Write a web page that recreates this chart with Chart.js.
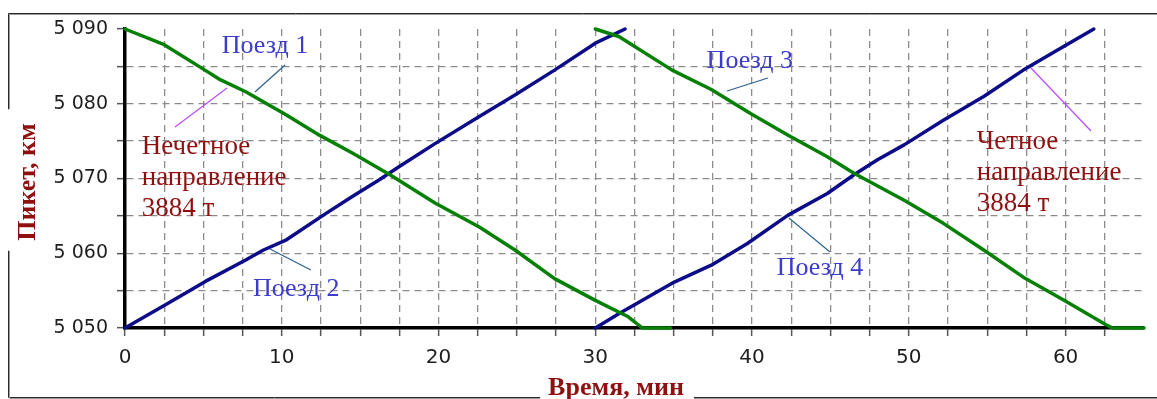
<!DOCTYPE html>
<html lang="ru">
<head>
<meta charset="utf-8">
<title>Пикет, км / Время, мин</title>
<script src="https://cdn.jsdelivr.net/npm/chart.js@4.4.1/dist/chart.umd.min.js"></script>
<style>
  html, body { margin: 0; padding: 0; background: #ffffff; }
  canvas { display: block; }
</style>
</head>
<body>
<canvas id="chart" width="1157" height="399"></canvas>
<script>
// Поезд 1 — нечетное направление (время, мин / пикет, км)
const train1Time = [0, 2.5, 5.1, 6.0, 7.7, 10.3, 12.4, 14.5, 16.9, 19.8, 22.6, 24.9, 27.4, 30.0, 32.1, 33.0, 34.8];
const train1Km   = [5090, 5087.9, 5084.5, 5083.3, 5081.6, 5078.5, 5075.8, 5073.4, 5070.5, 5066.7, 5063.5, 5060.4, 5056.6, 5053.7, 5051.5, 5050, 5050];

// Поезд 2 — четное направление
const train2Time = [0, 2.5, 5.1, 7.7, 8.8, 10.3, 12.8, 14.5, 16.2, 17.5, 19.8, 22.6, 24.9, 27.4, 30.0, 31.9];
const train2Km   = [5050, 5053.0, 5056.2, 5059.1, 5060.4, 5061.8, 5065.3, 5067.6, 5069.8, 5071.6, 5074.7, 5078.3, 5081.2, 5084.5, 5088.1, 5090];

// Поезд 3 — нечетное направление
const train3Time = [30.0, 31.5, 34.9, 37.4, 39.9, 42.3, 44.8, 46.5, 49.7, 52.2, 54.8, 57.3, 59.9, 62.6, 63.0, 65.0];
const train3Km   = [5090, 5089.0, 5084.5, 5081.9, 5078.7, 5075.8, 5072.9, 5070.7, 5067.1, 5064.0, 5060.4, 5056.8, 5053.7, 5050.4, 5050, 5050];

// Поезд 4 — четное направление
const train4Time = [30.0, 31.5, 34.9, 37.4, 39.7, 42.3, 44.8, 46.5, 48.0, 49.7, 52.2, 54.8, 57.3, 59.9, 61.8];
const train4Km   = [5050, 5051.9, 5056.0, 5058.4, 5061.3, 5065.1, 5068.0, 5070.5, 5072.5, 5074.5, 5077.8, 5081.0, 5084.5, 5087.7, 5090];

// Оси
const timeMin = 0, timeMax = 65, timeStep = 2.5, timeLabelStep = 10;
const kmMin = 5050, kmMax = 5090, kmStep = 5, kmLabelStep = 10;
const xTitle = 'Время, мин';
const yTitle = 'Пикет, км';

// Подписи поездов: текст, позиция (мин, км), выноска (мин, км) -> (мин, км)
const trainNames   = ['Поезд 1', 'Поезд 2', 'Поезд 3', 'Поезд 4'];
const trainNameAt  = [[6.17, 5086.8], [8.16, 5054.3], [37.1, 5084.8], [41.57, 5057.1]];
const trainLeaders = [
  [[8.29, 5081.57], [10.21, 5085.18]],
  [[9.25, 5060.57], [11.86, 5057.76]],
  [[38.4, 5081.71], [41.01, 5083.44]],
  [[42.35, 5064.72], [44.97, 5060.17]]
];

// Подписи направлений
const oddLines  = ['Нечетное', 'направление', '3884 т'];
const evenLines = ['Четное', 'направление', '3884 т'];
const oddAt  = [1.07, 5073.3];
const evenAt = [54.33, 5074.0];
const oddLeader  = [[3.19, 5076.89], [6.51, 5082.11]];
const evenLeader = [[57.79, 5084.78], [61.62, 5076.35]];

const toPoints = (xs, ys) => xs.map((x, i) => ({ x, y: ys[i] }));
const fmtKm = v => String(v).replace(/\B(?=(\d{3})+$)/, ' ');

const GREEN = '#058005';
const NAVY = '#0c0c88';
const DARK_RED = '#8e1010';
const LABEL_BLUE = '#3b3bcc';
const LEADER_BLUE = '#2d6190';
const LEADER_VIOLET = '#b84cff';
const SERIF = '"Liberation Serif", "Times New Roman", serif';
const SANS = '"DejaVu Sans", Verdana, sans-serif';

// Рамка, заголовки осей и подписи
const decorations = {
  id: 'decorations',
  afterDatasetsDraw(chart) {
    const { ctx, scales: { x, y } } = chart;
    const px = v => x.getPixelForValue(v);
    const py = v => y.getPixelForValue(v);
    ctx.save();

    // выноски
    const leader = (seg, color) => {
      ctx.beginPath();
      ctx.strokeStyle = color;
      ctx.lineWidth = 1.2;
      ctx.moveTo(px(seg[0][0]), py(seg[0][1]));
      ctx.lineTo(px(seg[1][0]), py(seg[1][1]));
      ctx.stroke();
    };
    trainLeaders.forEach(seg => leader(seg, LEADER_BLUE));
    leader(oddLeader, LEADER_VIOLET);
    leader(evenLeader, LEADER_VIOLET);

    // названия поездов
    ctx.font = '26px ' + SERIF;
    ctx.fillStyle = LABEL_BLUE;
    ctx.textAlign = 'left';
    ctx.textBaseline = 'alphabetic';
    trainNames.forEach((t, i) => ctx.fillText(t, px(trainNameAt[i][0]), py(trainNameAt[i][1])));

    // направления
    ctx.font = '27px ' + SERIF;
    ctx.fillStyle = DARK_RED;
    const block = (lines, at) => {
      lines.forEach((t, i) => ctx.fillText(t, px(at[0]), py(at[1]) + i * 31));
    };
    block(oddLines, oddAt);
    block(evenLines, evenAt);

    // заголовки осей
    ctx.font = 'bold 26px ' + SERIF;
    ctx.fillStyle = DARK_RED;
    const W = chart.width;
    const xTitleCx = 616, xTitleBase = 395;
    const xw = ctx.measureText(xTitle).width;
    ctx.textAlign = 'center';
    ctx.fillText(xTitle, xTitleCx, xTitleBase);

    const yTitleCy = 182, yTitleBase = 35;
    const yw = ctx.measureText(yTitle).width;
    ctx.save();
    ctx.translate(yTitleBase, yTitleCy);
    ctx.rotate(-Math.PI / 2);
    ctx.fillText(yTitle, 0, 0);
    ctx.restore();

    // рамка группы с разрывами под заголовки
    const fl = 8.5, ft = 13.5, fb = 397.5;
    const xGap = [xTitleCx - xw / 2 - 8, xTitleCx + xw / 2 + 10];
    const yGap = [yTitleCy - yw / 2 - 14, yTitleCy + yw / 2 + 10];
    const frame = (off, color) => {
      ctx.beginPath();
      ctx.strokeStyle = color;
      ctx.lineWidth = 1;
      ctx.moveTo(W, ft + off); ctx.lineTo(fl + off, ft + off); ctx.lineTo(fl + off, yGap[0]);
      ctx.moveTo(fl + off, yGap[1]); ctx.lineTo(fl + off, fb + off); ctx.lineTo(xGap[0], fb + off);
      ctx.moveTo(xGap[1], fb + off); ctx.lineTo(W, fb + off);
      ctx.stroke();
    };
    frame(0, '#2a2a2a');
    frame(1, '#9a9a9a');

    ctx.restore();
  }
};

const gridColor = edge => ctx => (ctx.tick && ctx.tick.value === edge ? 'rgba(0,0,0,0)' : '#8c8c8c');

new Chart(document.getElementById('chart'), {
  type: 'line',
  data: {
    datasets: [
      { label: 'Поезд 1', data: toPoints(train1Time, train1Km), borderColor: GREEN },
      { label: 'Поезд 3', data: toPoints(train3Time, train3Km), borderColor: GREEN },
      { label: 'Поезд 2', data: toPoints(train2Time, train2Km), borderColor: NAVY },
      { label: 'Поезд 4', data: toPoints(train4Time, train4Km), borderColor: NAVY }
    ].map(d => Object.assign(d, {
      borderWidth: 3.5, pointRadius: 0, tension: 0,
      fill: false, clip: false, borderCapStyle: 'round', borderJoinStyle: 'round'
    }))
  },
  options: {
    responsive: false,
    animation: false,
    devicePixelRatio: 1,
    layout: { padding: { left: 0, right: 13, top: 29, bottom: 0 } },
    plugins: { legend: { display: false }, tooltip: { enabled: false } },
    scales: {
      x: {
        type: 'linear',
        min: timeMin, max: timeMax,
        afterFit: s => { s.height = 71; },
        ticks: {
          stepSize: timeStep, autoSkip: false, maxRotation: 0, padding: 10,
          font: { family: SANS, size: 20 }, color: '#1e1e1e',
          callback: v => (v % timeLabelStep === 0 ? String(v) : '')
        },
        grid: {
          color: gridColor(timeMax), lineWidth: 1.3,
          tickLength: 8, tickWidth: 1.5,
          tickColor: ctx => (ctx.tick && ctx.tick.value === timeMax ? 'rgba(0,0,0,0)' : '#555555')
        },
        border: { display: true, color: '#000000', width: 3.5, dash: [7, 5] }
      },
      y: {
        type: 'linear',
        min: kmMin, max: kmMax,
        afterFit: s => { s.width = 125; },
        ticks: {
          stepSize: kmStep, autoSkip: false, padding: 9,
          font: { family: SANS, size: 19 }, color: '#1e1e1e',
          callback: v => (v % kmLabelStep === 0 ? fmtKm(v) : '')
        },
        grid: {
          color: gridColor(kmMax), lineWidth: 1.3,
          tickLength: 8, tickWidth: 1.5, tickColor: '#555555'
        },
        border: { display: true, color: '#000000', width: 3.5, dash: [7, 5] }
      }
    }
  },
  plugins: [decorations]
});
</script>
</body>
</html>
